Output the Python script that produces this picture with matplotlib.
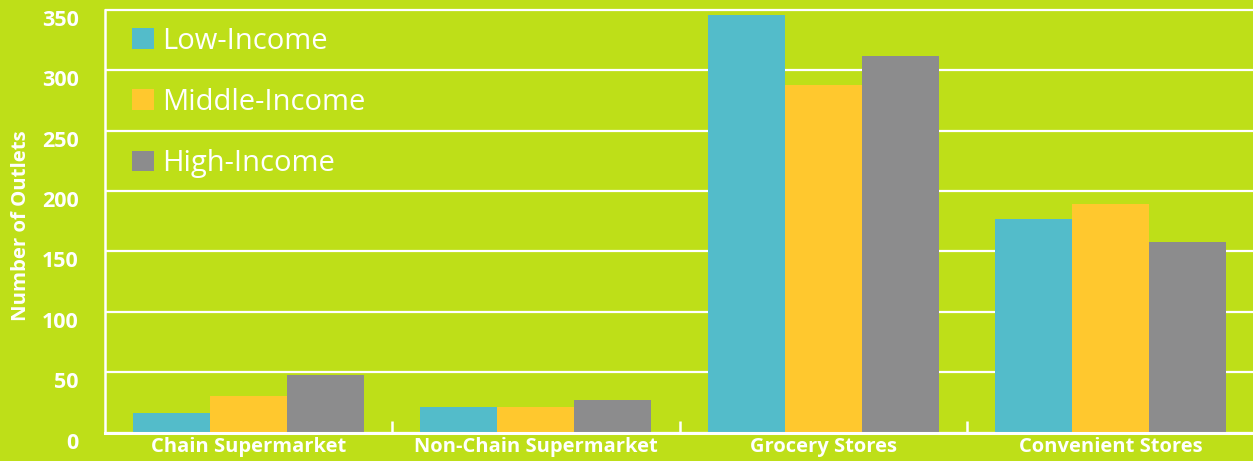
import matplotlib
matplotlib.use('Agg')
import matplotlib.pyplot as plt
import numpy as np

# Dados
categorias = ['Chain Supermarket', 'Non-Chain Supermarket', 'Grocery Stores', 'Convenient Stores']
series = ['Low-Income', 'Middle-Income', 'High-Income']
low_income = [16, 21, 346, 177]
middle_income = [30, 21, 288, 189]
high_income = [48, 27, 312, 158]
y_ticks = [0, 50, 100, 150, 200, 250, 300, 350]

bg = '#BEDF18'
cores = ['#53BCCA', '#FFC82E', '#8C8C8D']

fig = plt.figure(figsize=(12.53, 4.61), dpi=100, facecolor=bg)
W, H = 1253, 461
# eixo: x de 105 px até a borda direita, y=0 em 432.5 px
ax = fig.add_axes([105 / W, (H - 432.5) / H, 1148 / W, (432.5 - 7.6) / H])
ax.set_facecolor(bg)

x = np.arange(len(categorias))
largura = 0.268
for i, (vals, cor, nome) in enumerate(zip([low_income, middle_income, high_income], cores, series)):
    ax.bar(x + (i - 1) * largura, vals, largura, color=cor, label=nome, zorder=3, linewidth=0)

ax.set_xlim(-0.5, 3.496)
ax.set_ylim(0, 352)

# Grade branca
ax.set_yticks(y_ticks)
ax.grid(axis='y', color='white', linewidth=1.6, zorder=1)
ax.set_axisbelow(True)

for s in ['top', 'right']:
    ax.spines[s].set_visible(False)
ax.spines['left'].set_color('white')
ax.spines['left'].set_linewidth(1.8)
ax.spines['left'].set_bounds(0, 350)
ax.spines['bottom'].set_color('white')
ax.spines['bottom'].set_linewidth(2.2)
ax.spines['bottom'].set_zorder(4)

fonte = 'Open Sans'
ax.tick_params(axis='y', length=0, pad=19, labelsize=15.5, labelcolor='white')
for lbl in ax.get_yticklabels():
    lbl.set_fontweight('bold')
    lbl.set_fontfamily(fonte)
    lbl.set_verticalalignment('top')

ax.set_xticks(x)
ax.set_xticklabels(categorias, fontsize=14.5, fontweight='bold', color='white', family=fonte)
ax.tick_params(axis='x', which='major', length=0, pad=3.5)
ax.set_xticks([0.5, 1.5, 2.5], minor=True)
ax.tick_params(axis='x', which='minor', direction='in', length=9, width=1.8, color='white')

fig.text(21 / W, (H - 226) / H, 'Number of Outlets', rotation=90, color='white',
         fontsize=14.7, fontweight='bold', family=fonte, ha='center', va='center')

leg = ax.legend(loc='upper left', bbox_to_anchor=(132 / W, (H - 27) / H),
                bbox_transform=fig.transFigure, frameon=False,
                prop={'family': fonte, 'size': 21}, handlelength=0.75, handleheight=0.72,
                handletextpad=0.28, labelspacing=1.1, borderpad=0, borderaxespad=0)
for t in leg.get_texts():
    t.set_color('white')

plt.savefig('out.png', facecolor=bg)
